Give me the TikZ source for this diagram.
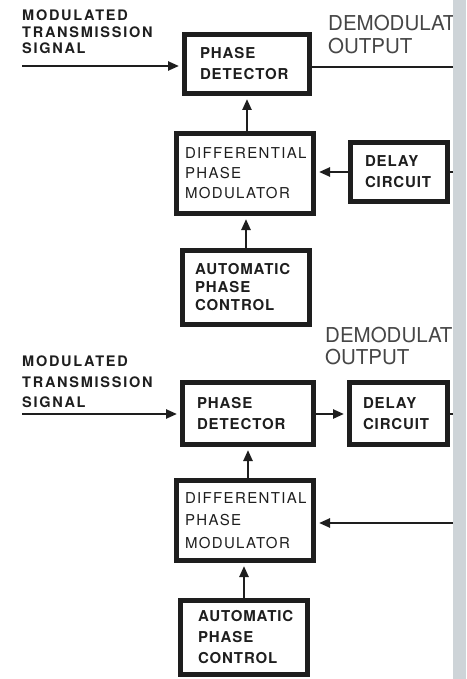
\documentclass[tikz,border=0pt]{standalone}
\usepackage{fontspec}
\setmainfont{TeX Gyre Heros}
\newfontfamily\boxfont[LetterSpace=6]{TeX Gyre Heros}
\newfontfamily\dpmfont[LetterSpace=9]{TeX Gyre Heros}
\newfontfamily\lblfont[LetterSpace=12]{TeX Gyre Heros}
\usetikzlibrary{arrows.meta}
\definecolor{ink}{RGB}{30,30,30}
\definecolor{outgray}{RGB}{70,70,70}
\definecolor{strip}{RGB}{206,212,216}

\begin{document}
\begin{tikzpicture}[x=1pt,y=-1pt,
  blk/.style={draw=ink,line width=5.5pt,fill=white,inner sep=0pt,align=left,text=ink,
    font=\boxfont\bfseries\fontsize{15}{21}\selectfont},
  dpm/.style={blk,font=\dpmfont\fontsize{15}{20}\selectfont},
  lbl/.style={anchor=north west,inner sep=0pt,align=left,text=ink,
    font=\lblfont\bfseries\fontsize{14.5}{16.5}\selectfont},
  outlbl/.style={anchor=north west,inner sep=0pt,align=left,text=outgray,
    font=\fontsize{20.5}{23}\selectfont},
  wire/.style={draw=ink,line width=2.4pt},
  arr/.style={wire,-{Triangle[length=11pt,width=9pt]},shorten >=2.75pt}]
  \useasboundingbox (0,0) rectangle (466,679);

  % upper circuit
  \node[lbl] (modA) at (22,10) {MODULATED\\TRANSMISSION\\SIGNAL};
  \node[outlbl] (demA) at (328,15) {DEMODULAT\\OUTPUT};
  \node[blk,minimum width=125pt,minimum height=59pt,text width=94pt] (pdA) at (247,64) {PHASE\\DETECTOR};
  \node[dpm,minimum width=137pt,minimum height=80pt,text width=120pt] (dpmA) at (245,173.5) {DIFFERENTIAL\\PHASE\\MODULATOR};
  \node[blk,minimum width=97pt,minimum height=59pt,text width=68pt] (dlyA) at (399,172) {DELAY\\CIRCUIT};
  \node[blk,minimum width=127pt,minimum height=74pt,text width=102pt,
    font=\boxfont\bfseries\fontsize{15}{18}\selectfont] (apcA) at (246,287.5) {AUTOMATIC\\PHASE\\CONTROL};
  \coordinate (inA) at (22,66);
  \coordinate (outA) at (453,67);
  \coordinate (edgeA) at (453,172);
  \draw[arr] (inA) -- (inA -| pdA.west);
  \draw[wire] (pdA.east |- outA) -- (outA);
  \draw[arr] (pdA.south |- dpmA.north) -- (pdA.south);
  \draw[arr] (dlyA.west) -- (dlyA.west -| dpmA.east);
  \draw[wire] (edgeA) -- (dlyA.east);
  \draw[arr] (apcA.north) -- (apcA.north |- dpmA.south);

  % lower circuit
  \node[lbl,font=\lblfont\bfseries\fontsize{14.5}{20.5}\selectfont] (modB) at (22,356) {MODULATED\\TRANSMISSION\\SIGNAL};
  \node[outlbl,font=\fontsize{20.5}{22}\selectfont] (demB) at (325,327) {DEMODULAT\\OUTPUT};
  \node[blk,minimum width=131pt,minimum height=62pt,text width=102pt] (pdB) at (248,413.5) {PHASE\\DETECTOR};
  \node[blk,minimum width=98pt,minimum height=62pt,text width=71pt] (dlyB) at (398.5,413.5) {DELAY\\CIRCUIT};
  \node[dpm,minimum width=137pt,minimum height=80pt,text width=120pt,
    font=\dpmfont\fontsize{15}{22.5}\selectfont] (dpmB) at (245,520.5) {DIFFERENTIAL\\PHASE\\MODULATOR};
  \node[blk,minimum width=127pt,minimum height=74pt,text width=92pt] (apcB) at (244,637.5) {AUTOMATIC\\PHASE\\CONTROL};
  \coordinate (inB) at (22,414);
  \coordinate (edgeB) at (453,414);
  \coordinate (fbB) at (453,523);
  \draw[arr] (inB) -- (inB -| pdB.west);
  \draw[arr] (pdB.east |- inB) -- (inB -| dlyB.west);
  \draw[wire] (dlyB.east |- edgeB) -- (edgeB);
  \draw[arr] (pdB.south |- dpmB.north) -- (pdB.south);
  \draw[arr] (fbB) -- (fbB -| dpmB.east);
  \draw[arr] (apcB.north) -- (apcB.north |- dpmB.south);

  % page edge
  \fill[strip] (453,0) rectangle (466,679);
\end{tikzpicture}
\end{document}
